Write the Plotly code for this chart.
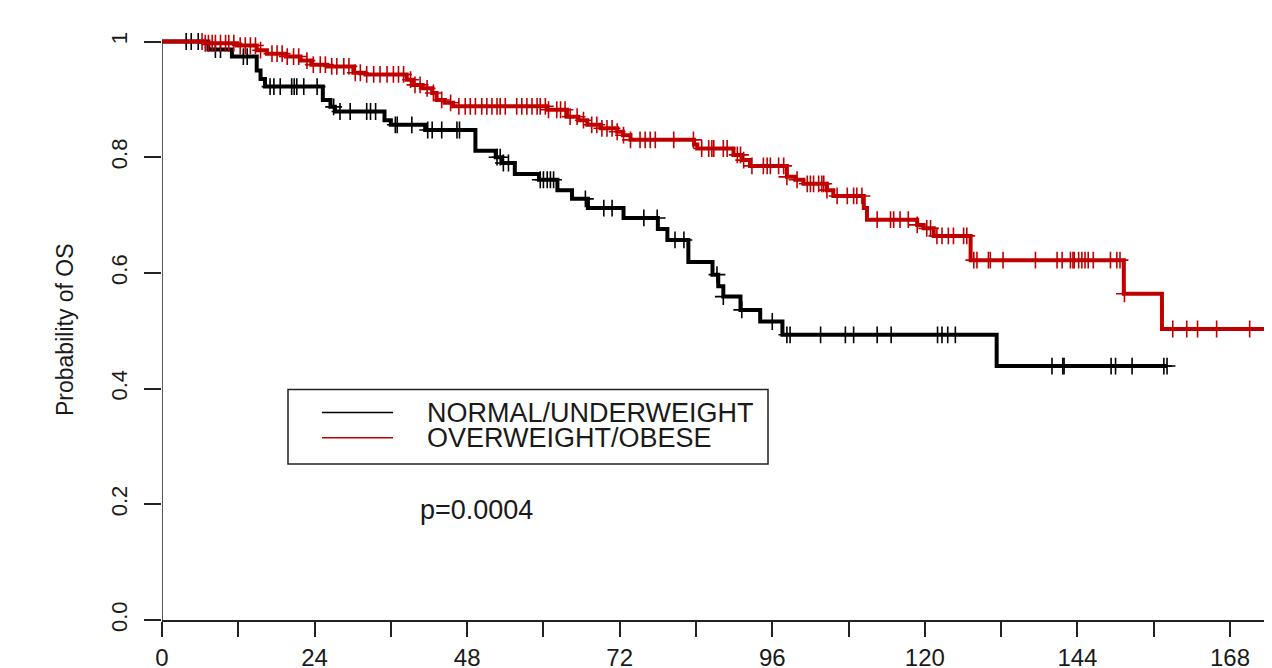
import numpy as np
import plotly.graph_objects as go

# ---------------- data ----------------
# NORMAL/UNDERWEIGHT (black): event times (months) and survival after each step
nu_event_t = [7.3, 11.0, 14.9, 15.5, 16.2, 25.3, 26.5, 27.2, 35.0, 36.0, 41.4, 49.3,
              52.5, 53.5, 55.5, 59.3, 62.2, 64.5, 67.0, 72.6, 78.0, 79.5, 82.8, 86.6,
              87.5, 88.3, 91.0, 94.1, 97.6, 131.3]
nu_surv = [0.986, 0.974, 0.950, 0.935, 0.922, 0.899, 0.887, 0.879, 0.864, 0.856, 0.847, 0.811,
           0.800, 0.790, 0.771, 0.761, 0.743, 0.728, 0.712, 0.695, 0.676, 0.657, 0.619, 0.597,
           0.577, 0.559, 0.536, 0.516, 0.493, 0.439]
nu_end = 158.1
nu_cens = [3.8, 4.6, 5.7, 8.4, 9.2, 12.8, 13.4, 17.0, 17.6, 18.6, 20.4, 20.8, 21.2, 22.3,
           24.4, 27.0, 28.0, 29.6, 32.2, 32.8, 33.6, 36.7, 37.0, 39.3, 41.8, 42.5, 44.0,
           46.4, 46.8, 52.7, 53.2, 53.7, 54.5, 59.5, 60.0, 60.6, 61.1, 61.6, 66.6, 69.5,
           70.8, 75.8, 77.9, 80.7, 82.1, 87.3, 88.3, 91.2, 96.0, 98.3, 98.8, 103.6, 107.5,
           108.8, 112.5, 114.7, 122.0, 122.7, 123.6, 124.8, 140.0, 141.7, 141.9, 149.3,
           150.0, 152.6, 157.6, 158.1]

# OVERWEIGHT/OBESE (red)
ow_event_t = [6.5, 11.8, 14.9, 16.5, 19.5, 21.8, 23.5, 26.0, 30.1, 32.0, 38.5, 39.5, 41.0,
              42.5, 43.2, 44.5, 45.8, 60.6, 63.7, 65.5, 66.9, 69.0, 71.6, 72.5, 73.7, 83.7,
              84.2, 89.9, 91.2, 92.5, 98.3, 99.6, 100.9, 104.6, 105.6, 110.4, 110.9, 118.8,
              119.8, 121.4, 127.2, 151.3, 157.3]
ow_surv = [0.997, 0.993, 0.985, 0.979, 0.974, 0.967, 0.960, 0.957, 0.946, 0.943, 0.934, 0.925,
           0.919, 0.911, 0.899, 0.894, 0.888, 0.882, 0.870, 0.864, 0.856, 0.850, 0.844, 0.838,
           0.830, 0.822, 0.815, 0.804, 0.795, 0.785, 0.766, 0.761, 0.754, 0.743, 0.733, 0.712,
           0.692, 0.683, 0.677, 0.664, 0.622, 0.564, 0.503]
ow_end = 176.0
ow_cens = [6.3, 6.8, 7.3, 7.9, 8.4, 9.2, 10.0, 10.5, 11.3, 12.3, 13.1, 13.9, 14.7, 15.5,
           17.3, 18.1, 18.9, 19.7, 20.7, 21.5, 22.8, 23.8, 24.9, 25.7, 26.7, 27.5, 28.6,
           29.4, 30.4, 31.2, 32.2, 33.3, 34.3, 35.4, 36.4, 37.2, 38.0, 39.1, 39.8, 40.6,
           41.7, 42.7, 44.0, 45.4, 46.7, 47.7, 48.5, 49.3, 50.3, 51.1, 51.9, 52.7, 53.2,
           54.0, 55.8, 56.6, 57.4, 58.2, 59.0, 59.5, 60.3, 60.8, 62.1, 62.7, 63.4, 64.2,
           65.3, 66.3, 67.6, 68.4, 69.2, 70.0, 70.8, 71.6, 72.6, 73.7, 75.2, 76.0, 76.8,
           77.6, 80.5, 83.6, 84.9, 86.0, 86.5, 86.8, 88.3, 88.9, 90.5, 91.0, 91.5, 92.8,
           94.6, 95.2, 95.7, 97.0, 97.8, 98.3, 99.9, 101.5, 102.0, 102.5, 103.3, 103.8,
           104.1, 104.6, 106.2, 107.8, 108.8, 109.3, 110.1, 112.5, 114.6, 115.1, 116.1,
           117.4, 118.8, 120.3, 120.9, 121.9, 122.7, 123.7, 124.5, 126.1, 126.6, 127.7,
           128.2, 130.0, 130.3, 132.3, 137.4, 140.8, 141.6, 142.9, 143.3, 143.5, 144.2,
           144.7, 145.2, 145.7, 146.5, 149.2, 150.2, 150.7, 151.4, 159.0, 161.2, 162.9,
           165.9, 171.1]

group_names = ["NORMAL/UNDERWEIGHT", "OVERWEIGHT/OBESE"]
group_colors = ["#000000", "#C00000"]

x_tick_vals = list(range(0, 181, 12))
x_tick_text = [str(v) if v % 24 == 0 else "" for v in x_tick_vals]
y_tick_vals = [0.0, 0.2, 0.4, 0.6, 0.8, 1.0]
y_tick_text = ["0.0", "0.2", "0.4", "0.6", "0.8", "1"]
p_text = "p=0.0004"
y_title = "Probability of OS"

FONT = "Liberation Sans, Arial, sans-serif"
TXT = "#1a1a1a"
AX = "#222222"

# ---------------- layout geometry ----------------
# the page places the figure 8 px from the top-left corner of the window
OFF = 8
W, H = 1272 - OFF, 668 - OFF
ML, MB = 162 - OFF, 48
PW, PH = W - ML, H - MB
PX_PER_X = 6.357
PX_PER_Y = 578.5
x_max = PW / PX_PER_X
y_max = PH / PX_PER_Y


def step_xy(times, surv, end):
    xs = [0.0] + list(times) + [end]
    ys = [1.0] + list(surv) + [surv[-1]]
    return xs, ys


def surv_at(times, surv, t):
    t_arr = np.asarray(times)
    s_arr = np.concatenate([[1.0], np.asarray(surv)])
    idx = np.searchsorted(t_arr, np.asarray(t), side="right")
    return s_arr[idx]


# screen pixel -> paper coordinate helpers (for the hand-drawn legend box and labels)
def px_x(px):
    return (px - OFF - ML) / PW


def px_y(py):
    return (PH - (py - OFF)) / PH


fig = go.Figure()

groups = [
    (nu_event_t, nu_surv, nu_end, nu_cens),
    (ow_event_t, ow_surv, ow_end, ow_cens),
]
for (et, sv, end, cens), name, col in zip(groups, group_names, group_colors):
    xs, ys = step_xy(et, sv, end)
    fig.add_trace(go.Scatter(x=xs, y=ys, mode="lines", line=dict(color=col, width=4, shape="hv"),
                             name=name, showlegend=False, hoverinfo="skip"))
    fig.add_trace(go.Scatter(x=cens, y=surv_at(et, sv, cens), mode="markers",
                             marker=dict(symbol="cross-thin", size=12,
                                         line=dict(width=1.6, color=col)),
                             showlegend=False, hoverinfo="skip"))

# y axis line (R style, only spanning the tick range)
fig.add_shape(type="line", xref="x", yref="y", x0=0, x1=0, y0=0, y1=1,
              line=dict(color=AX, width=1.5))

# legend box drawn like R's legend()
fig.add_shape(type="rect", xref="paper", yref="paper", x0=px_x(288), x1=px_x(768),
              y0=px_y(464), y1=px_y(389.5), line=dict(color=AX, width=1.5),
              fillcolor="rgba(0,0,0,0)")
for i, (name, col) in enumerate(zip(group_names, group_colors)):
    yy = px_y(412.5 + 25.3 * i)
    fig.add_shape(type="line", xref="paper", yref="paper", x0=px_x(322), x1=px_x(393),
                  y0=yy, y1=yy, line=dict(color=col, width=1.5))
    fig.add_annotation(x=px_x(425), y=yy, xref="paper", yref="paper", text=name,
                       showarrow=False, xanchor="left", yanchor="middle",
                       font=dict(family=FONT, size=27, color=TXT))

fig.add_annotation(x=px_x(418), y=px_y(510), xref="paper", yref="paper", text=p_text,
                   showarrow=False, xanchor="left", yanchor="middle",
                   font=dict(family=FONT, size=27, color=TXT))

fig.add_annotation(x=px_x(65), y=px_y(330), xref="paper", yref="paper",
                   text=y_title, textangle=-90, showarrow=False, xanchor="center",
                   yanchor="middle", font=dict(family=FONT, size=23, color=TXT))

fig.update_layout(
    width=W, height=H,
    margin=dict(l=ML, r=0, t=0, b=MB, autoexpand=False),
    paper_bgcolor="white", plot_bgcolor="white",
    showlegend=False,
    xaxis=dict(range=[0, x_max], tickmode="array", tickvals=x_tick_vals, ticktext=x_tick_text,
               ticks="outside", ticklen=15, tickwidth=1.5, tickcolor=AX,
               showline=True, linecolor=AX, linewidth=1.5, showgrid=False, zeroline=False,
               tickfont=dict(family=FONT, size=24, color=TXT), automargin=False,
               ticklabelstandoff=0),
    yaxis=dict(range=[0, y_max], tickmode="array", tickvals=y_tick_vals, ticktext=y_tick_text,
               ticks="outside", ticklen=17, tickwidth=1.5, tickcolor=AX,
               showline=False, showgrid=False, zeroline=False, tickangle=-90,
               tickfont=dict(family=FONT, size=22, color=TXT), automargin=False,
               ticklabelstandoff=8),
)

fig.write_html("out.html")
